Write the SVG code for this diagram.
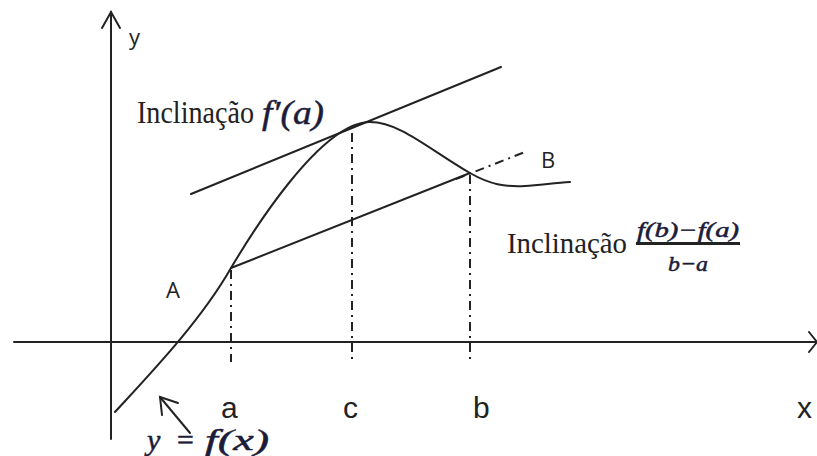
<svg xmlns="http://www.w3.org/2000/svg" width="817" height="456" viewBox="0 0 817 456">
<style>
.ln{stroke:#222;stroke-width:2;fill:none;stroke-linecap:round}
.dd{stroke:#222;stroke-width:2;fill:none;stroke-dasharray:9,5,2,5}
.sans{font-family:"Open Sans","DejaVu Sans",sans-serif;fill:#222}
.arial{font-family:"Liberation Sans",Arial,sans-serif;fill:#222}
.serif{font-family:"Liberation Serif","Times New Roman",serif;fill:#222}
.math{font-family:"Liberation Serif","Times New Roman",serif;font-style:italic;fill:#1c1c3a;stroke:#1c1c3a;stroke-width:0.5}
</style>
<rect width="817" height="456" fill="#fff"/>
<g id="axes">
<line class="ln" x1="111" y1="12" x2="111" y2="439"/>
<polyline class="ln" points="102,28 111,12 120,28"/>
<line class="ln" x1="14" y1="342" x2="816" y2="342"/>
<polyline class="ln" points="809,332 817,342 809,352"/>
<text class="sans" x="129" y="45" font-size="22">y</text>
<text class="arial" x="797" y="418" font-size="30">x</text>
</g>
<g id="connectors">
<line class="dd" x1="231" y1="270" x2="231" y2="362"/>
<line class="dd" x1="352" y1="133" x2="352" y2="362"/>
<line class="dd" x1="470" y1="175" x2="470" y2="362"/>
<line class="dd" x1="456" y1="179" x2="525" y2="152"/>
<line class="ln" x1="191" y1="194" x2="501" y2="67"/>
<line class="ln" x1="231" y1="268" x2="470" y2="173"/>
<line class="ln" x1="190" y1="433" x2="160" y2="397"/>
<polyline class="ln" points="162,415 160,397 178,403"/>
</g>
<g id="curve">
<path class="ln" d="M115,412 C150,374 200,322 231,268 C250,236 320,122 370,122 C400,122 430,150 470,173 C490,184.5 505,187 525,186 C540,185 555,183 570,182"/>
</g>
<g id="labels">
<text class="sans" x="166" y="298" font-size="22">A</text>
<text class="sans" x="541" y="168" font-size="22">B</text>
<text class="arial" x="221" y="418" font-size="30">a</text>
<text class="arial" x="343" y="418" font-size="30">c</text>
<text class="arial" x="473" y="418" font-size="30">b</text>
</g>
<g id="slope-tangent">
<text class="serif" x="137" y="123" font-size="31" textLength="117" lengthAdjust="spacingAndGlyphs">Inclinação</text>
<text class="math" x="262" y="124" font-size="33" textLength="62" lengthAdjust="spacingAndGlyphs">f′(a)</text>
</g>
<g id="slope-secant">
<text class="serif" x="507" y="253" font-size="29" textLength="120" lengthAdjust="spacingAndGlyphs">Inclinação</text>
<text class="math" x="688" y="237" font-size="21" text-anchor="middle" textLength="102" lengthAdjust="spacingAndGlyphs">f(b)−f(a)</text>
<line x1="636" y1="243.5" x2="740" y2="243.5" stroke="#222" stroke-width="3"/>
<text class="math" x="688" y="271" font-size="22" text-anchor="middle" textLength="40" lengthAdjust="spacingAndGlyphs">b−a</text>
</g>
<g id="function-label">
<text class="math" x="147" y="450" font-size="30">y</text>
<text class="math" x="175" y="450" font-size="30" font-style="normal">=</text>
<text class="math" x="205" y="450" font-size="30" textLength="64" lengthAdjust="spacingAndGlyphs">f(x)</text>
</g>
</svg>
